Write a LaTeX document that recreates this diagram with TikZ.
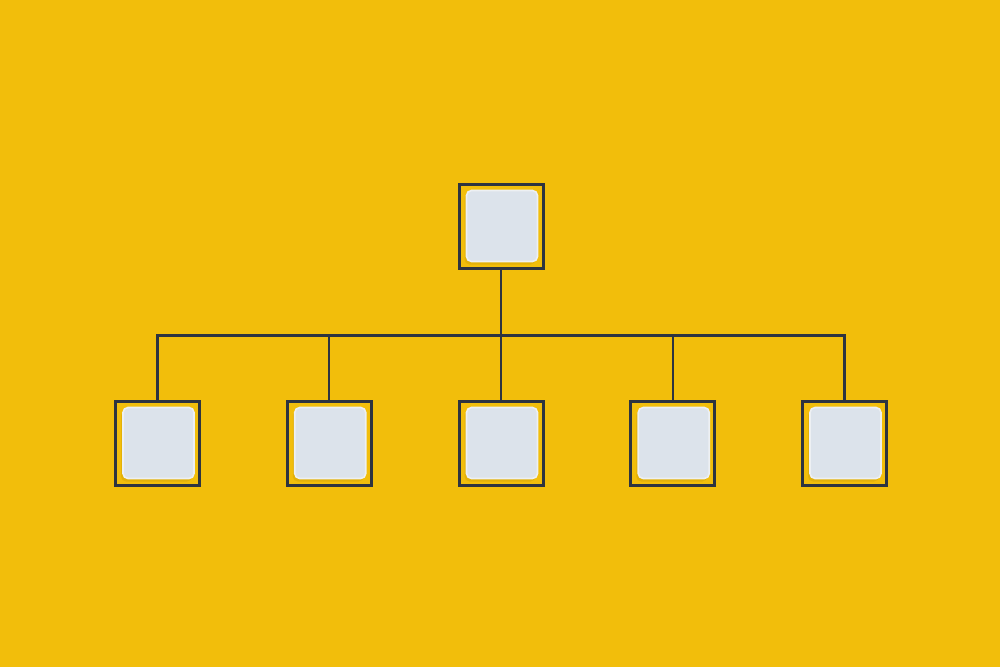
\documentclass[tikz,border=0pt]{standalone}
\usetikzlibrary{shadows}
\definecolor{bgyellow}{HTML}{F2BE0B}
\definecolor{wire}{HTML}{2E3440}
\definecolor{tilefill}{HTML}{DCE3EB}
\definecolor{tileedge}{HTML}{EDF0F3}
\definecolor{shadowyellow}{HTML}{C99A05}
\begin{document}
\begin{tikzpicture}[
        x=1pt, y=-1pt,
        frame/.style={draw=wire, rectangle, line width=3pt, minimum size=84pt, inner sep=0pt},
        tile/.style={draw=tileedge, fill=tilefill, line width=1.6pt, rounded corners=5pt,
            minimum size=71pt, inner sep=0pt,
            drop shadow={shadow xshift=-2pt, shadow yshift=-3pt, fill=shadowyellow, opacity=0.35}},
        edge from parent/.style={draw=wire, line width=2.2pt},
        edge from parent path={(\tikzparentnode.south) -- ++(0,-66pt) -| (\tikzchildnode.north)},
        level 1/.style={sibling distance=171.75pt},
        level distance=217pt,
    ]
    \fill[bgyellow] (0,0) rectangle (1000,667);
    \useasboundingbox (0,0) rectangle (1000,667);
    \node[frame](head) at (501,226){}
    child{node[frame](c1){}}
    child{node[frame](c2){}}
    child{node[frame](c3){}}
    child{node[frame](c4){}}
    child{node[frame](c5){}}
    ;
    \foreach \n in {head,c1,c2,c3,c4,c5}
        \node[tile](tile-\n) at ([xshift=1pt]\n.center){};
\end{tikzpicture}
\end{document}
